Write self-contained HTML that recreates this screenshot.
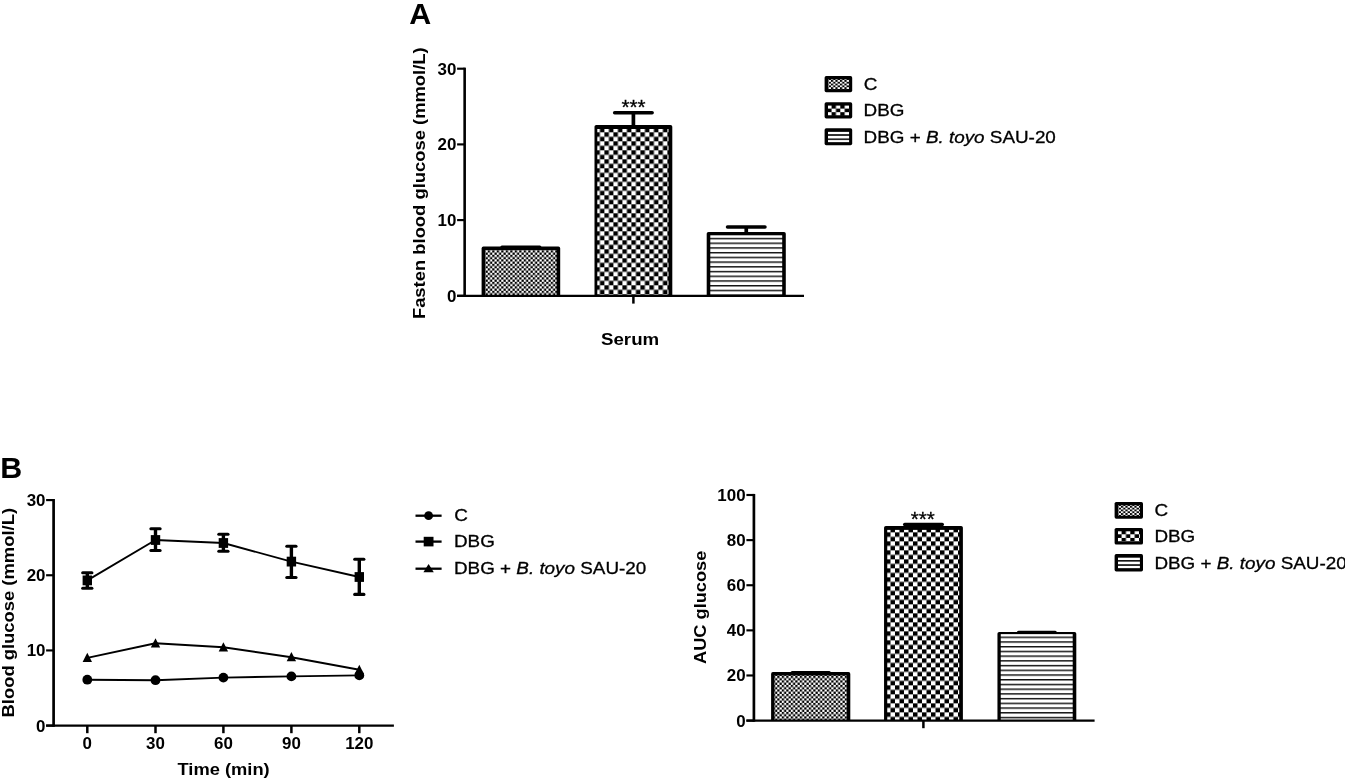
<!DOCTYPE html>
<html lang="en">
<head>
<meta charset="utf-8">
<title>Figure</title>
<style>
html,body{margin:0;padding:0;background:#fff;}
body{width:1345px;height:779px;overflow:hidden;}
svg{display:block;}
</style>
</head>
<body>
<svg width="1345" height="779" viewBox="0 0 1345 779" font-family='"Liberation Sans", Arial, Helvetica, sans-serif' fill="#000">
<rect x="0" y="0" width="1345" height="779" fill="#fff"/>

<text transform="translate(409.3,24) scale(1.03,1)" font-size="29.5" font-weight="bold" text-anchor="start">A</text>
<line x1="464.65" y1="67.63" x2="464.65" y2="296.95" stroke="#000" stroke-width="2.6" stroke-linecap="butt"/>
<line x1="457.1" y1="295.8" x2="464.65" y2="295.8" stroke="#000" stroke-width="2.15" stroke-linecap="butt"/>
<text transform="translate(456.3,301.8) scale(1.02,1)" font-size="16.6" font-weight="bold" text-anchor="end">0</text>
<line x1="457.1" y1="220.10000000000002" x2="464.65" y2="220.10000000000002" stroke="#000" stroke-width="2.15" stroke-linecap="butt"/>
<text transform="translate(456.3,226.10000000000002) scale(1.02,1)" font-size="16.6" font-weight="bold" text-anchor="end">10</text>
<line x1="457.1" y1="144.4" x2="464.65" y2="144.4" stroke="#000" stroke-width="2.15" stroke-linecap="butt"/>
<text transform="translate(456.3,150.4) scale(1.02,1)" font-size="16.6" font-weight="bold" text-anchor="end">20</text>
<line x1="457.1" y1="68.69999999999999" x2="464.65" y2="68.69999999999999" stroke="#000" stroke-width="2.15" stroke-linecap="butt"/>
<text transform="translate(456.3,74.69999999999999) scale(1.02,1)" font-size="16.6" font-weight="bold" text-anchor="end">30</text>
<line x1="633.4" y1="295.8" x2="633.4" y2="303.6" stroke="#000" stroke-width="2.5" stroke-linecap="butt"/>
<text transform="translate(425.3,183.2) rotate(-90) scale(1.095,1)" font-size="16.8" font-weight="bold" text-anchor="middle">Fasten blood glucose (mmol/L)</text>
<text transform="translate(630.1,345.3) scale(1.1,1)" font-size="17" font-weight="bold" text-anchor="middle">Serum</text>
<pattern id="p1" width="4.5" height="4.5" patternUnits="userSpaceOnUse" x="483.25" y="250.30"><rect width="4.5" height="4.5" fill="#fff"/><rect width="2.25" height="2.25" fill="#000"/><rect x="2.25" y="2.25" width="2.25" height="2.25" fill="#000"/></pattern>
<line x1="520.90" y1="247.6" x2="520.90" y2="247.0" stroke="#000" stroke-width="3.7"/>
<line x1="501.90" y1="247.0" x2="539.90" y2="247.0" stroke="#000" stroke-width="3.0" stroke-linecap="round"/>
<path d="M481.6,295.8 V248.4 Q481.6,246.6 483.40000000000003,246.6 H558.4000000000001 Q560.2,246.6 560.2,248.4 V295.8 Z" fill="#000"/>
<rect x="485.20" y="250.00" width="71.40" height="45.80" fill="url(#p1)"/>
<pattern id="p2" width="9.0" height="9.0" patternUnits="userSpaceOnUse" x="595.40" y="132.30"><rect width="9.0" height="9.0" fill="#fff"/><rect width="4.5" height="4.5" fill="#000"/><rect x="4.5" y="4.5" width="4.5" height="4.5" fill="#000"/></pattern>
<line x1="633.40" y1="125.9" x2="633.40" y2="112.85" stroke="#000" stroke-width="3.7"/>
<line x1="614.65" y1="112.85" x2="652.15" y2="112.85" stroke="#000" stroke-width="3.5" stroke-linecap="round"/>
<path d="M594.5,295.8 V126.7 Q594.5,124.9 596.3,124.9 H670.5 Q672.3,124.9 672.3,126.7 V295.8 Z" fill="#000"/>
<rect x="597.30" y="129.00" width="71.20" height="166.80" fill="url(#p2)"/>
<pattern id="p3" width="20" height="4.72" patternUnits="userSpaceOnUse" x="706.70" y="237.80"><rect width="20" height="4.72" fill="#fff"/><rect width="20" height="1.45" fill="#111"/></pattern>
<line x1="746.25" y1="232.9" x2="746.25" y2="227.1" stroke="#000" stroke-width="3.7"/>
<line x1="727.50" y1="227.1" x2="765.00" y2="227.1" stroke="#000" stroke-width="3.5" stroke-linecap="round"/>
<path d="M706.7,295.8 V233.70000000000002 Q706.7,231.9 708.5,231.9 H784.0 Q785.8,231.9 785.8,233.70000000000002 V295.8 Z" fill="#000"/>
<rect x="710.30" y="235.30" width="71.90" height="60.50" fill="url(#p3)"/>
<line x1="457.1" y1="295.8" x2="804" y2="295.8" stroke="#000" stroke-width="2.3" stroke-linecap="butt"/>
<text transform="translate(633.6,113.6) scale(1.03,1)" font-size="20" font-weight="normal" text-anchor="middle" stroke="#000" stroke-width="0.3">***</text>
<pattern id="p4" width="4.5" height="3.6" patternUnits="userSpaceOnUse" x="830.90" y="80.00"><rect width="4.5" height="3.6" fill="#fff"/><rect width="2.25" height="1.8" fill="#000"/><rect x="2.25" y="1.8" width="2.25" height="1.8" fill="#000"/></pattern>
<rect x="824.6" y="76" width="27.6" height="16.2" rx="1.7" ry="1.7" fill="#000"/>
<rect x="828.0" y="79.4" width="21.10" height="9.70" fill="url(#p4)"/>
<pattern id="p5" width="8.72" height="7.2" patternUnits="userSpaceOnUse" x="831.58" y="105.00"><rect width="8.72" height="7.2" fill="#fff"/><rect width="4.36" height="3.6" fill="#000"/><rect x="4.36" y="3.6" width="4.36" height="3.6" fill="#000"/></pattern>
<rect x="824.6" y="102.2" width="27.6" height="16.2" rx="1.7" ry="1.7" fill="#000"/>
<rect x="828.0" y="105.60000000000001" width="21.10" height="9.70" fill="url(#p5)"/>
<pattern id="p6" width="20" height="4.25" patternUnits="userSpaceOnUse" x="824.60" y="134.20"><rect width="20" height="4.25" fill="#fff"/><rect width="20" height="1.6" fill="#111"/></pattern>
<rect x="824.6" y="128.3" width="27.6" height="17" rx="1.7" ry="1.7" fill="#000"/>
<rect x="828.0" y="131.70000000000002" width="21.10" height="10.50" fill="url(#p6)"/>
<text transform="translate(863.8,89.9) scale(1.11,1)" font-size="17" font-weight="normal" text-anchor="start" stroke="#000" stroke-width="0.3">C</text>
<text transform="translate(863.6,115.9) scale(1.11,1)" font-size="17" font-weight="normal" text-anchor="start" stroke="#000" stroke-width="0.3">DBG</text>
<text transform="translate(863.6,142.6) scale(1.11,1)" font-size="17" font-weight="normal" text-anchor="start" stroke="#000" stroke-width="0.3">DBG + <tspan font-style="italic">B. toyo</tspan> SAU-20</text>
<text transform="translate(0.2,478) scale(1.03,1)" font-size="29.5" font-weight="bold" text-anchor="start">B</text>
<line x1="53.6" y1="499.02000000000004" x2="53.6" y2="726.75" stroke="#000" stroke-width="2.7" stroke-linecap="butt"/>
<line x1="46.1" y1="725.6" x2="393.9" y2="725.6" stroke="#000" stroke-width="2.3" stroke-linecap="butt"/>
<line x1="46.1" y1="725.6" x2="53.6" y2="725.6" stroke="#000" stroke-width="2.15" stroke-linecap="butt"/>
<text transform="translate(45.5,731.6) scale(1.02,1)" font-size="16.6" font-weight="bold" text-anchor="end">0</text>
<line x1="46.1" y1="650.4300000000001" x2="53.6" y2="650.4300000000001" stroke="#000" stroke-width="2.15" stroke-linecap="butt"/>
<text transform="translate(45.5,656.4300000000001) scale(1.02,1)" font-size="16.6" font-weight="bold" text-anchor="end">10</text>
<line x1="46.1" y1="575.26" x2="53.6" y2="575.26" stroke="#000" stroke-width="2.15" stroke-linecap="butt"/>
<text transform="translate(45.5,581.26) scale(1.02,1)" font-size="16.6" font-weight="bold" text-anchor="end">20</text>
<line x1="46.1" y1="500.09000000000003" x2="53.6" y2="500.09000000000003" stroke="#000" stroke-width="2.15" stroke-linecap="butt"/>
<text transform="translate(45.5,506.09000000000003) scale(1.02,1)" font-size="16.6" font-weight="bold" text-anchor="end">30</text>
<line x1="87.3" y1="725.6" x2="87.3" y2="733.2" stroke="#000" stroke-width="2.5" stroke-linecap="butt"/>
<text transform="translate(87.3,749.4) scale(1.02,1)" font-size="16.6" font-weight="bold" text-anchor="middle">0</text>
<line x1="155.5" y1="725.6" x2="155.5" y2="733.2" stroke="#000" stroke-width="2.5" stroke-linecap="butt"/>
<text transform="translate(155.5,749.4) scale(1.02,1)" font-size="16.6" font-weight="bold" text-anchor="middle">30</text>
<line x1="223.4" y1="725.6" x2="223.4" y2="733.2" stroke="#000" stroke-width="2.5" stroke-linecap="butt"/>
<text transform="translate(223.4,749.4) scale(1.02,1)" font-size="16.6" font-weight="bold" text-anchor="middle">60</text>
<line x1="291.4" y1="725.6" x2="291.4" y2="733.2" stroke="#000" stroke-width="2.5" stroke-linecap="butt"/>
<text transform="translate(291.4,749.4) scale(1.02,1)" font-size="16.6" font-weight="bold" text-anchor="middle">90</text>
<line x1="359.3" y1="725.6" x2="359.3" y2="733.2" stroke="#000" stroke-width="2.5" stroke-linecap="butt"/>
<text transform="translate(359.3,749.4) scale(1.02,1)" font-size="16.6" font-weight="bold" text-anchor="middle">120</text>
<text transform="translate(14.3,612.7) rotate(-90) scale(1.095,1)" font-size="16.8" font-weight="bold" text-anchor="middle">Blood glucose (mmol/L)</text>
<text transform="translate(223.6,775) scale(1.09,1)" font-size="16.8" font-weight="bold" text-anchor="middle">Time (min)</text>
<polyline fill="none" stroke="#000" stroke-width="1.9" stroke-linejoin="round" points="87.3,580.4 155.5,540.0 223.4,543.0 291.4,561.6 359.3,577.0"/>
<line x1="87.3" y1="572.7" x2="87.3" y2="588.3" stroke="#000" stroke-width="3.4" stroke-linecap="butt"/>
<line x1="82.7" y1="572.7" x2="91.89999999999999" y2="572.7" stroke="#000" stroke-width="3.1" stroke-linecap="round"/>
<line x1="82.7" y1="588.3" x2="91.89999999999999" y2="588.3" stroke="#000" stroke-width="3.1" stroke-linecap="round"/>
<rect x="82.6" y="575.5" width="9.4" height="9.8"/>
<line x1="155.5" y1="528.8" x2="155.5" y2="550.5" stroke="#000" stroke-width="3.4" stroke-linecap="butt"/>
<line x1="150.9" y1="528.8" x2="160.1" y2="528.8" stroke="#000" stroke-width="3.1" stroke-linecap="round"/>
<line x1="150.9" y1="550.5" x2="160.1" y2="550.5" stroke="#000" stroke-width="3.1" stroke-linecap="round"/>
<rect x="150.8" y="535.1" width="9.4" height="9.8"/>
<line x1="223.4" y1="534.2" x2="223.4" y2="551.2" stroke="#000" stroke-width="3.4" stroke-linecap="butt"/>
<line x1="218.8" y1="534.2" x2="228.0" y2="534.2" stroke="#000" stroke-width="3.1" stroke-linecap="round"/>
<line x1="218.8" y1="551.2" x2="228.0" y2="551.2" stroke="#000" stroke-width="3.1" stroke-linecap="round"/>
<rect x="218.70000000000002" y="538.1" width="9.4" height="9.8"/>
<line x1="291.4" y1="546.2" x2="291.4" y2="577.5" stroke="#000" stroke-width="3.4" stroke-linecap="butt"/>
<line x1="286.79999999999995" y1="546.2" x2="296.0" y2="546.2" stroke="#000" stroke-width="3.1" stroke-linecap="round"/>
<line x1="286.79999999999995" y1="577.5" x2="296.0" y2="577.5" stroke="#000" stroke-width="3.1" stroke-linecap="round"/>
<rect x="286.7" y="556.7" width="9.4" height="9.8"/>
<line x1="359.3" y1="559.3" x2="359.3" y2="594.4" stroke="#000" stroke-width="3.4" stroke-linecap="butt"/>
<line x1="354.7" y1="559.3" x2="363.90000000000003" y2="559.3" stroke="#000" stroke-width="3.1" stroke-linecap="round"/>
<line x1="354.7" y1="594.4" x2="363.90000000000003" y2="594.4" stroke="#000" stroke-width="3.1" stroke-linecap="round"/>
<rect x="354.6" y="572.1" width="9.4" height="9.8"/>
<polyline fill="none" stroke="#000" stroke-width="1.9" stroke-linejoin="round" points="87.3,657.9 155.5,643.3 223.4,647.3 291.4,657.2 359.3,669.8"/>
<polygon points="87.3,652.8 92.0,662.0 82.6,662.0"/>
<polygon points="155.5,638.1999999999999 160.2,647.4 150.8,647.4"/>
<polygon points="223.4,642.1999999999999 228.1,651.4 218.70000000000002,651.4"/>
<polygon points="291.4,652.1 296.09999999999997,661.3000000000001 286.7,661.3000000000001"/>
<polygon points="359.3,664.6999999999999 364.0,673.9 354.6,673.9"/>
<polyline fill="none" stroke="#000" stroke-width="1.9" stroke-linejoin="round" points="87.3,679.7 155.5,680.2 223.4,677.6 291.4,676.4 359.3,675.4"/>
<circle cx="87.3" cy="679.7" r="4.9"/>
<circle cx="155.5" cy="680.2" r="4.9"/>
<circle cx="223.4" cy="677.6" r="4.9"/>
<circle cx="291.4" cy="676.4" r="4.9"/>
<circle cx="359.3" cy="675.4" r="4.9"/>
<line x1="415.5" y1="515.7" x2="441.6" y2="515.7" stroke="#000" stroke-width="2.3" stroke-linecap="butt"/>
<line x1="415.5" y1="541.6" x2="441.6" y2="541.6" stroke="#000" stroke-width="2.3" stroke-linecap="butt"/>
<line x1="415.5" y1="568.7" x2="441.6" y2="568.7" stroke="#000" stroke-width="2.3" stroke-linecap="butt"/>
<circle cx="428.6" cy="515.7" r="4.4"/>
<rect x="423.70000000000005" y="536.8000000000001" width="9.8" height="9.6"/>
<polygon points="428.6,564.1 433.8,572.3000000000001 423.40000000000003,572.3000000000001"/>
<text transform="translate(454.2,521.2) scale(1.11,1)" font-size="17" font-weight="normal" text-anchor="start" stroke="#000" stroke-width="0.3">C</text>
<text transform="translate(454.0,547.4) scale(1.11,1)" font-size="17" font-weight="normal" text-anchor="start" stroke="#000" stroke-width="0.3">DBG</text>
<text transform="translate(454.0,574.4) scale(1.11,1)" font-size="17" font-weight="normal" text-anchor="start" stroke="#000" stroke-width="0.3">DBG + <tspan font-style="italic">B. toyo</tspan> SAU-20</text>
<line x1="753.9" y1="493.93" x2="753.9" y2="721.75" stroke="#000" stroke-width="2.7" stroke-linecap="butt"/>
<line x1="746.4" y1="720.6" x2="753.9" y2="720.6" stroke="#000" stroke-width="2.15" stroke-linecap="butt"/>
<text transform="translate(745.6,726.6) scale(1.02,1)" font-size="16.6" font-weight="bold" text-anchor="end">0</text>
<line x1="746.4" y1="675.48" x2="753.9" y2="675.48" stroke="#000" stroke-width="2.15" stroke-linecap="butt"/>
<text transform="translate(745.6,681.48) scale(1.02,1)" font-size="16.6" font-weight="bold" text-anchor="end">20</text>
<line x1="746.4" y1="630.36" x2="753.9" y2="630.36" stroke="#000" stroke-width="2.15" stroke-linecap="butt"/>
<text transform="translate(745.6,636.36) scale(1.02,1)" font-size="16.6" font-weight="bold" text-anchor="end">40</text>
<line x1="746.4" y1="585.24" x2="753.9" y2="585.24" stroke="#000" stroke-width="2.15" stroke-linecap="butt"/>
<text transform="translate(745.6,591.24) scale(1.02,1)" font-size="16.6" font-weight="bold" text-anchor="end">60</text>
<line x1="746.4" y1="540.12" x2="753.9" y2="540.12" stroke="#000" stroke-width="2.15" stroke-linecap="butt"/>
<text transform="translate(745.6,546.12) scale(1.02,1)" font-size="16.6" font-weight="bold" text-anchor="end">80</text>
<line x1="746.4" y1="495.0" x2="753.9" y2="495.0" stroke="#000" stroke-width="2.15" stroke-linecap="butt"/>
<text transform="translate(745.6,501.0) scale(1.02,1)" font-size="16.6" font-weight="bold" text-anchor="end">100</text>
<line x1="923.4" y1="720.6" x2="923.4" y2="728.2" stroke="#000" stroke-width="2.5" stroke-linecap="butt"/>
<text transform="translate(705.5,607.3) rotate(-90) scale(1.085,1)" font-size="16.8" font-weight="bold" text-anchor="middle">AUC glucose</text>
<pattern id="p7" width="4.5" height="4.5" patternUnits="userSpaceOnUse" x="772.78" y="675.88"><rect width="4.5" height="4.5" fill="#fff"/><rect width="2.25" height="2.25" fill="#000"/><rect x="2.25" y="2.25" width="2.25" height="2.25" fill="#000"/></pattern>
<line x1="810.70" y1="673.1" x2="810.70" y2="672.5" stroke="#000" stroke-width="3.7"/>
<line x1="792.10" y1="672.5" x2="829.30" y2="672.5" stroke="#000" stroke-width="3.0" stroke-linecap="round"/>
<path d="M771.1,720.6 V673.9 Q771.1,672.1 772.9,672.1 H848.5 Q850.3,672.1 850.3,673.9 V720.6 Z" fill="#000"/>
<rect x="774.40" y="675.50" width="72.30" height="45.10" fill="url(#p7)"/>
<pattern id="p8" width="9.0" height="9.0" patternUnits="userSpaceOnUse" x="885.99" y="532.35"><rect width="9.0" height="9.0" fill="#fff"/><rect width="4.5" height="4.5" fill="#000"/><rect x="4.5" y="4.5" width="4.5" height="4.5" fill="#000"/></pattern>
<line x1="923.47" y1="527.05" x2="923.47" y2="524.6" stroke="#000" stroke-width="3.7"/>
<line x1="904.72" y1="524.6" x2="942.22" y2="524.6" stroke="#000" stroke-width="3.5" stroke-linecap="round"/>
<path d="M884.05,720.6 V527.8499999999999 Q884.05,526.05 885.8499999999999,526.05 H961.1 Q962.9,526.05 962.9,527.8499999999999 V720.6 Z" fill="#000"/>
<rect x="887.25" y="529.90" width="71.95" height="190.70" fill="url(#p8)"/>
<pattern id="p9" width="20" height="4.72" patternUnits="userSpaceOnUse" x="997.45" y="636.55"><rect width="20" height="4.72" fill="#fff"/><rect width="20" height="1.45" fill="#111"/></pattern>
<line x1="1036.88" y1="633.07" x2="1036.88" y2="632.45" stroke="#000" stroke-width="3.7"/>
<line x1="1018.52" y1="632.45" x2="1055.22" y2="632.45" stroke="#000" stroke-width="3.3" stroke-linecap="round"/>
<path d="M997.45,720.6 V633.87 Q997.45,632.07 999.25,632.07 H1074.5 Q1076.3,632.07 1076.3,633.87 V720.6 Z" fill="#000"/>
<rect x="1000.75" y="634.12" width="71.95" height="86.48" fill="url(#p9)"/>
<line x1="746.4" y1="720.6" x2="1094.6" y2="720.6" stroke="#000" stroke-width="2.3" stroke-linecap="butt"/>
<text transform="translate(922.8,525.6) scale(1.03,1)" font-size="20" font-weight="normal" text-anchor="middle" stroke="#000" stroke-width="0.3">***</text>
<pattern id="p10" width="4.5" height="3.6" patternUnits="userSpaceOnUse" x="1120.90" y="505.90"><rect width="4.5" height="3.6" fill="#fff"/><rect width="2.25" height="1.8" fill="#000"/><rect x="2.25" y="1.8" width="2.25" height="1.8" fill="#000"/></pattern>
<rect x="1114.6" y="501.9" width="28.4" height="16.9" rx="1.7" ry="1.7" fill="#000"/>
<rect x="1118.0" y="505.29999999999995" width="21.90" height="10.40" fill="url(#p10)"/>
<pattern id="p11" width="8.72" height="7.2" patternUnits="userSpaceOnUse" x="1121.58" y="530.70"><rect width="8.72" height="7.2" fill="#fff"/><rect width="4.36" height="3.6" fill="#000"/><rect x="4.36" y="3.6" width="4.36" height="3.6" fill="#000"/></pattern>
<rect x="1114.6" y="527.9" width="28.4" height="16.7" rx="1.7" ry="1.7" fill="#000"/>
<rect x="1118.0" y="531.3" width="21.90" height="10.20" fill="url(#p11)"/>
<pattern id="p12" width="20" height="4.25" patternUnits="userSpaceOnUse" x="1114.60" y="560.00"><rect width="20" height="4.25" fill="#fff"/><rect width="20" height="1.6" fill="#111"/></pattern>
<rect x="1114.6" y="554.1" width="28.4" height="17.3" rx="1.7" ry="1.7" fill="#000"/>
<rect x="1118.0" y="557.5" width="21.90" height="10.80" fill="url(#p12)"/>
<text transform="translate(1154.6,516.2) scale(1.11,1)" font-size="17" font-weight="normal" text-anchor="start" stroke="#000" stroke-width="0.3">C</text>
<text transform="translate(1154.4,541.8) scale(1.11,1)" font-size="17" font-weight="normal" text-anchor="start" stroke="#000" stroke-width="0.3">DBG</text>
<text transform="translate(1154.4,569.0) scale(1.11,1)" font-size="17" font-weight="normal" text-anchor="start" stroke="#000" stroke-width="0.3">DBG + <tspan font-style="italic">B. toyo</tspan> SAU-20</text>
</svg>
</body>
</html>
